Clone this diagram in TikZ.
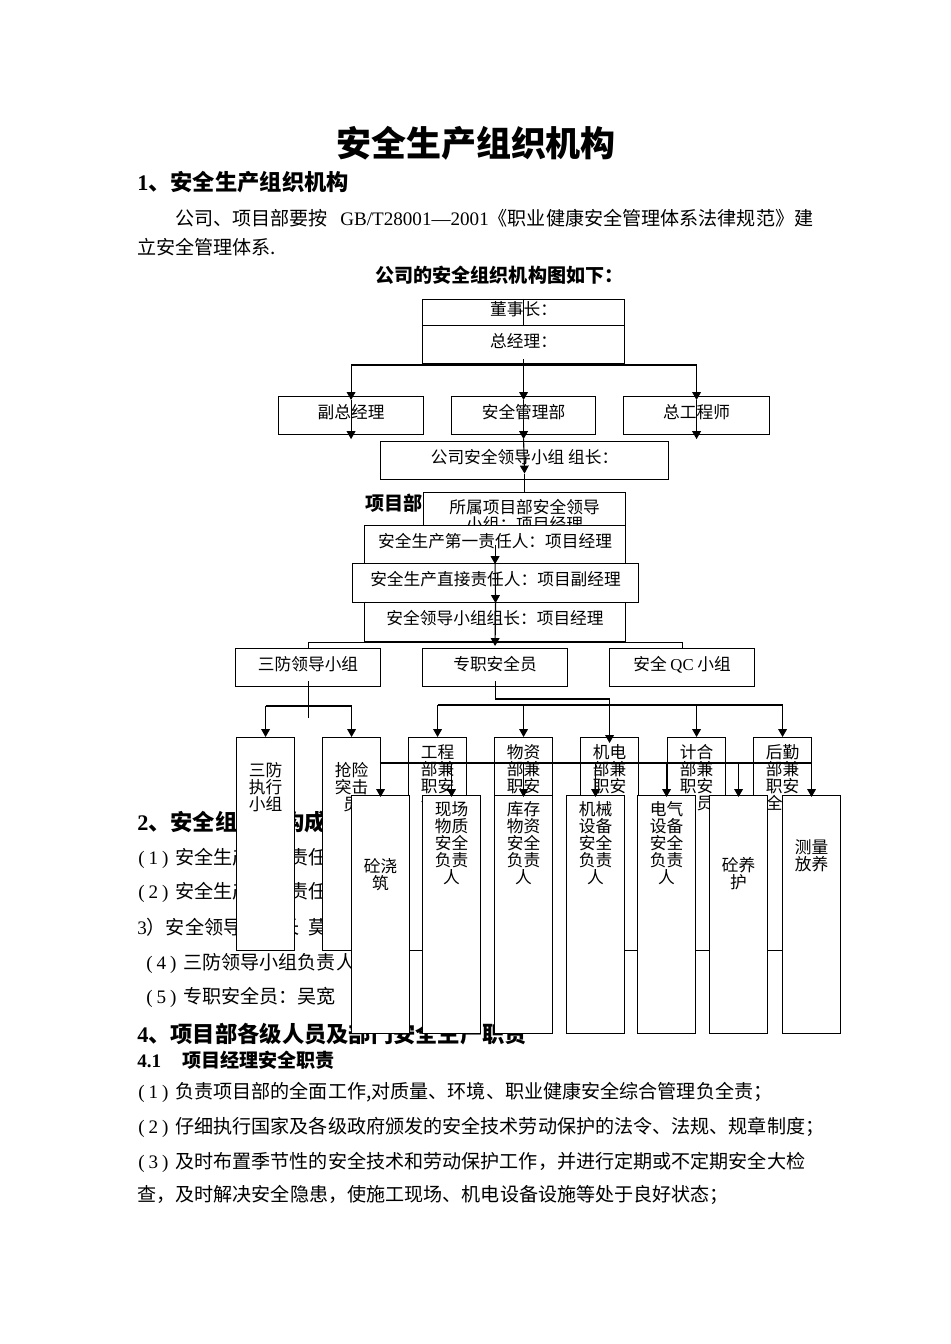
\documentclass[tikz,border=0pt]{standalone}
\usepackage{fontspec}
\setmainfont{Noto Sans CJK SC}
\newfontfamily\lat{Liberation Serif}
\usetikzlibrary{arrows.meta, positioning, calc}
\XeTeXlinebreaklocale "zh"
\XeTeXlinebreakskip=0pt plus 1pt minus 1.5pt
\newlength\pxu
\setlength\pxu{0.0221cm}
\newcommand\titlefs{\fontsize{22}{26}\selectfont\bfseries}
\newcommand\headfs{\fontsize{14}{16}\selectfont\bfseries}
\newcommand\bodyfs{\fontsize{12}{14}\selectfont}
\newcommand\boxfs{\fontsize{10.5}{10.7}\selectfont}
\newcommand\itm[1]{\makebox[38\pxu][l]{\lat\hspace{1\pxu}(\hspace{4\pxu}#1\hspace{4\pxu})}}
\newcommand\vcol[3]{\parbox[t][#1\pxu][t]{58\pxu}{\centering\vspace*{#2\pxu}#3\par}}

\begin{document}
\begin{tikzpicture}[x=1\pxu, y=-1\pxu,
  txt/.style={anchor=west, inner sep=0pt, font=\bodyfs},
  box/.style={draw, fill=white, line width=0.7pt, inner sep=0pt, anchor=north west,
    font=\boxfs, text height=0.8em, text depth=0.45em},
  col/.style={draw, fill=white, line width=0.7pt, inner sep=0pt, anchor=north west, font=\boxfs},
  conn/.style={line width=0.7pt},
  arr/.style={conn, -{Triangle[length=5pt, width=5.5pt]}}]
  \useasboundingbox (0,0) rectangle (950,1344);
  \fill[white] (0,0) rectangle (950,1344);

  % Title and section 1
  \node[font=\titlefs] (title) at (476,143) {安全生产组织机构};
  \node[txt, font=\headfs] (h1) at (137,182) {{\lat 1}、安全生产组织机构};
  \node[txt] (p1a) at (175,218) {\hbox to 638\pxu{公司、项目部要按 {\lat GB/T28001—2001}《职业健康安全管理体系法律规范》建}};
  \node[txt] (p1b) at (137,247) {立安全管理体系.};
  \node[txt, font=\bodyfs\bfseries] (cap) at (375,275) {公司的安全组织机构图如下：};

  % Section 2 (lies under the chart)
  \node[txt, font=\headfs] (h2) at (137,822) {{\lat 2}、安全组织机构成员};
  \node[txt] (m1) at (137,858) {\itm{1}安全生产第一责任人：};
  \node[txt] (m2) at (137,892) {\itm{2}安全生产直接责任人：};
  \node[txt] (m3) at (137,927) {{\lat 3}）安全领导小组长\hspace{9\pxu}莫};
  \node[txt] (m4) at (145,963) {\itm{4}三防领导小组负责人：};
  \node[txt] (m5) at (145,997) {\itm{5}专职安全员：吴宽};

  % Section 4
  \node[txt, font=\headfs] (h4) at (137,1034) {{\lat 4}、项目部各级人员及部门安全生产职责};
  \node[txt, font=\bodyfs\bfseries] (h41) at (137,1060) {{\lat 4.1}\hspace{21\pxu}项目经理安全职责};
  \node[txt] (r1) at (137,1092) {\hbox to 656\pxu{\itm{1}负责项目部的全面工作,对质量、环境、职业健康安全综合管理负全责；}};
  \node[txt] (r2) at (137,1127) {\hbox to 676\pxu{\itm{2}仔细执行国家及各级政府颁发的安全技术劳动保护的法令、法规、规章制度；}};
  \node[txt] (r3) at (137,1162) {\hbox to 676\pxu{\itm{3}及时布置季节性的安全技术和劳动保护工作，并进行定期或不定期安全大检}};
  \node[txt] (r4) at (137,1195) {\hbox to 555\pxu{查，及时解决安全隐患，使施工现场、机电设备设施等处于良好状态；}};

  % Company level
  \node[box, minimum width=202\pxu, minimum height=26\pxu] (dsz) at (422,299) {董事长：};
  \node[box, minimum width=202\pxu, minimum height=38\pxu] (zjl) at (422,325) {总经理：};
  \node[box, minimum width=145\pxu, minimum height=38\pxu] (fzjl) at (278,396) {副总经理};
  \node[box, minimum width=144\pxu, minimum height=38\pxu] (aqglb) at (451,396) {安全管理部};
  \node[box, minimum width=146\pxu, minimum height=38\pxu] (zgcs) at (623,396) {总工程师};
  \node[box, minimum width=288\pxu, minimum height=38\pxu] (gsaq) at (380,441) {公司安全领导小组 组长：};

  % Project level
  \node[txt, font=\bodyfs\bfseries] (xmb) at (365,503) {项目部};
  \node[draw, fill=white, line width=0.7pt, inner sep=0pt, anchor=north west, font=\boxfs, align=center,
    minimum width=202\pxu, minimum height=46\pxu] (ssxm) at (423,492) {所属项目部安全领导\\小组：项目经理};
  \node[box, minimum width=261\pxu, minimum height=38\pxu] (dyzr) at (364,525) {安全生产第一责任人：项目经理};
  \node[box, minimum width=286\pxu, minimum height=39\pxu] (zjzr) at (352,563) {安全生产直接责任人：项目副经理};
  \node[box, minimum width=261\pxu, minimum height=39\pxu] (aqld) at (364,602) {安全领导小组组长：项目经理};

  \node[box, minimum width=145\pxu, minimum height=38\pxu] (sfld) at (235,648) {三防领导小组};
  \node[box, minimum width=145\pxu, minimum height=38\pxu] (zzaq) at (422,648) {专职安全员};
  \node[box, minimum width=145\pxu, minimum height=38\pxu] (aqqc) at (609,648) {安全 {\lat QC} 小组};

  % Tall boxes, upper row
  \node[col] (sfzx) at (236,737) {\vcol{213}{25}{三防\\执行\\小组}};
  \node[col] (qxtj) at (322,737) {\vcol{213}{25}{抢险\\突击\\员}};
  \node[col] (gcb) at (408,737) {\vcol{213}{7}{工程\\部兼\\职安\\全员}};
  \node[col] (wzb) at (494,737) {\vcol{213}{7}{物资\\部兼\\职安\\全员}};
  \node[col] (jdb) at (580,737) {\vcol{213}{7}{机电\\部兼\\职安\\全员}};
  \node[col] (jhb) at (667,737) {\vcol{213}{7}{计合\\部兼\\职安\\全员}};
  \node[col] (hqb) at (753,737) {\vcol{213}{7}{后勤\\部兼\\职安\\全员}};

  % Tall boxes, lower row
  \node[col] (tjz) at (351,795) {\vcol{238}{63}{砼浇\\筑}};
  \node[col] (xcwz) at (422,795) {\vcol{238}{6}{现场\\物质\\安全\\负责\\人}};
  \node[col] (kcwz) at (494,795) {\vcol{238}{6}{库存\\物资\\安全\\负责\\人}};
  \node[col] (jxsb) at (566,795) {\vcol{238}{6}{机械\\设备\\安全\\负责\\人}};
  \node[col] (dqsb) at (637,795) {\vcol{238}{6}{电气\\设备\\安全\\负责\\人}};
  \node[col] (tyh) at (709,795) {\vcol{238}{62}{砼养\\护}};
  \node[col] (clfy) at (782,795) {\vcol{238}{44}{测量\\放养}};

  % Connectors, company level
  \draw[conn] (dsz.north) -- (dsz.south);
  \coordinate (gbus) at (524,365);
  \draw[conn] (gbus -| fzjl.north) -- (gbus -| zgcs.north);
  \draw[arr] (gbus -| fzjl.north) -- ([yshift=-4\pxu]fzjl.north);
  \draw[arr] ([yshift=-4\pxu]fzjl.north) -- ([yshift=-4\pxu]fzjl.south);
  \draw[arr] (gbus -| zgcs.north) -- ([yshift=-4\pxu]zgcs.north);
  \draw[arr] ([yshift=-4\pxu]zgcs.north) -- ([yshift=-4\pxu]zgcs.south);
  \draw[arr] ([yshift=5\pxu]zjl.south) -- ([yshift=-4\pxu]aqglb.north);
  \draw[arr] ([yshift=-4\pxu]aqglb.north) -- ([yshift=-4\pxu]aqglb.south);
  \draw[arr] ([yshift=-4\pxu]aqglb.south) -- ([yshift=-13\pxu]gsaq.center);
  \draw[conn] ([yshift=-13\pxu]gsaq.center) -- (ssxm.north);

  % Connectors, project level
  \draw[arr] (dyzr.center) -- (dyzr.south);
  \draw[arr] (dyzr.south) -- (zjzr.south);
  \draw[arr] (zjzr.south) -- ([yshift=2\pxu]zzaq.north);
  \draw[conn] (sfld.north) |- (aqld.south) -| (aqqc.north);

  % Connectors to the tall boxes
  \draw[conn] ([yshift=6\pxu]sfld.south) -- ([yshift=-31\pxu]sfld.south);
  \coordinate (sbus) at (308,706);
  \draw[conn] (sbus -| sfzx.north) -- (sbus -| qxtj.north);
  \draw[arr] (sbus -| sfzx.north) -- (sfzx.north);
  \draw[arr] (sbus -| qxtj.north) -- (qxtj.north);
  \coordinate (zbus) at (495,699);
  \draw[arr] ([yshift=6\pxu]zzaq.south) |- (zbus) -| ([yshift=-6\pxu]jdb.north);
  \coordinate (bbus) at (600,705);
  \draw[conn] (bbus -| gcb.north) -- (bbus -| hqb.north);
  \foreach \b in {gcb, wzb, jhb, hqb}
    \draw[arr] (bbus -| \b.north) -- (\b.north);
  \coordinate (xbus) at (600,763);
  \draw[conn] (xbus -| tjz.north) -- (xbus -| clfy.north);
  \foreach \b in {tjz, xcwz, kcwz, jxsb, dqsb, tyh, clfy}
    \draw[arr] (xbus -| \b.north) -- ([yshift=-2\pxu]\b.north);
\end{tikzpicture}
\end{document}
